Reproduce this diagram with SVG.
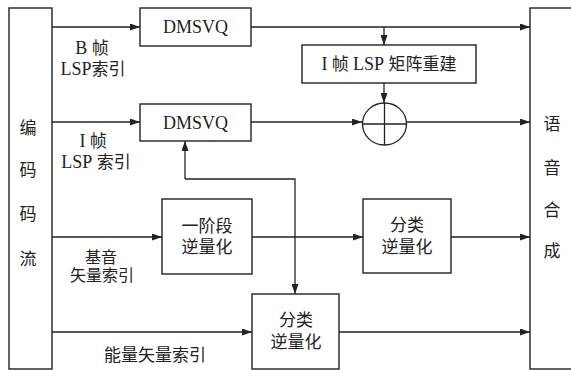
<svg xmlns="http://www.w3.org/2000/svg" width="571" height="370" viewBox="0 0 571 370">
<defs>
<style>
.box{fill:#fff;stroke:#222;stroke-width:1.4}
.ln{fill:none;stroke:#222;stroke-width:1.3}
.arr{marker-end:url(#ah)}
text{font-family:"Liberation Serif","Noto Sans CJK SC",serif;font-size:17px;fill:#222;text-anchor:middle}
.lat{font-family:"Liberation Serif",serif;font-size:18px}
.sm{font-size:16px}
</style>
<marker id="ah" markerUnits="userSpaceOnUse" markerWidth="10" markerHeight="7" refX="10" refY="3.5" orient="auto">
<path d="M0,0 L10,3.5 L0,7 z" fill="#222"/>
</marker>
</defs>
<rect width="571" height="370" fill="#fff"/>
<g id="connectors">
<path class="ln arr" d="M52,27 H140"/>
<path class="ln arr" d="M251,27 H530"/>
<path class="ln arr" d="M384,27 V45"/>
<path class="ln arr" d="M384,83 V103"/>
<path class="ln arr" d="M52,122 H140"/>
<path class="ln arr" d="M251,122 H362"/>
<path class="ln arr" d="M406,122 H530"/>
<path class="ln arr" d="M185,179 V141"/>
<path class="ln arr" d="M185,179 H295 V294"/>
<path class="ln arr" d="M52,237 H162"/>
<path class="ln arr" d="M252,237 H363"/>
<path class="ln arr" d="M451,237 H530"/>
<path class="ln arr" d="M52,332 H252"/>
<path class="ln arr" d="M339,332 H530"/>
</g>
<g id="stream">
<rect class="box" x="9" y="8" width="43" height="361"/>
<text x="28" y="134">编</text>
<text x="28" y="176">码</text>
<text x="28" y="220">码</text>
<text x="28" y="265">流</text>
</g>
<g id="synth">
<rect class="box" x="530" y="8" width="50" height="361"/>
<text x="552" y="130">语</text>
<text x="552" y="174">音</text>
<text x="552" y="216">合</text>
<text x="552" y="257">成</text>
</g>
<g id="dmsvq1">
<rect class="box" x="140" y="8" width="111" height="38"/>
<text class="lat" x="195.5" y="33">DMSVQ</text>
</g>
<g id="dmsvq2">
<rect class="box" x="140" y="104" width="111" height="37"/>
<text class="lat" x="195.5" y="129">DMSVQ</text>
</g>
<g id="rebuild">
<rect class="box" x="302" y="45" width="174" height="38"/>
<text x="389" y="70"><tspan class="lat">I</tspan> 帧 <tspan class="lat">LSP</tspan> 矩阵重建</text>
</g>
<g id="adder">
<ellipse class="ln" cx="384.5" cy="124" rx="22" ry="21"/>
<path class="ln" d="M362.5,124 H406.5 M384.5,103 V145"/>
</g>
<g id="stage1">
<rect class="box" x="162" y="199" width="90" height="75"/>
<text x="207" y="232">一阶段</text>
<text x="207" y="253">逆量化</text>
</g>
<g id="classify1">
<rect class="box" x="363" y="199" width="88" height="74"/>
<text x="407" y="231">分类</text>
<text x="407" y="253">逆量化</text>
</g>
<g id="classify2">
<rect class="box" x="252" y="294" width="87" height="75"/>
<text x="296" y="326">分类</text>
<text x="296" y="348">逆量化</text>
</g>
<g id="labels">
<text x="92" y="54"><tspan class="lat">B</tspan> 帧</text>
<text x="93" y="75"><tspan class="lat">LSP</tspan>索引</text>
<text x="93" y="147"><tspan class="lat">I</tspan> 帧</text>
<text x="96" y="168"><tspan class="lat">LSP</tspan> 索引</text>
<text class="sm" x="101" y="263">基音</text>
<text class="sm" x="102" y="281">矢量索引</text>
<text x="155" y="361">能量矢量索引</text>
</g>
</svg>
